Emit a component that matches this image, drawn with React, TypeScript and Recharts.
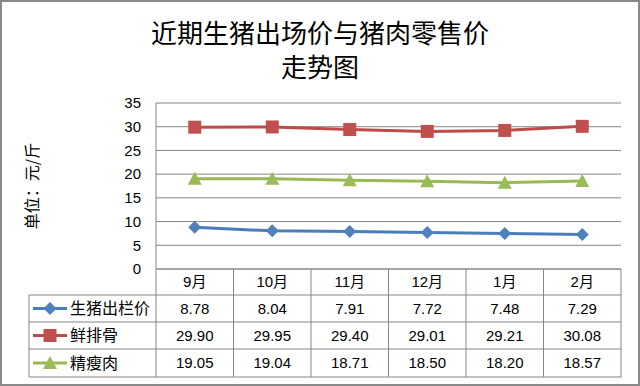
import React from 'react';
import { LineChart, Line, XAxis, YAxis, CartesianGrid } from 'recharts';

// 月份与价格（元/斤）
const months = ['9月', '10月', '11月', '12月', '1月', '2月'];
const hogPrice = [8.78, 8.04, 7.91, 7.72, 7.48, 7.29];
const ribPrice = [29.9, 29.95, 29.4, 29.01, 29.21, 30.08];
const leanPrice = [19.05, 19.04, 18.71, 18.5, 18.2, 18.57];
const yTicks = [0, 5, 10, 15, 20, 25, 30, 35];

const series = [
  { key: 'hog', name: '生猪出栏价', values: hogPrice, line: '#4A7EBB', fill: '#4F81BD', shape: 'diamond' },
  { key: 'rib', name: '鲜排骨', values: ribPrice, line: '#BE4B48', fill: '#C0504D', shape: 'square' },
  { key: 'lean', name: '精瘦肉', values: leanPrice, line: '#98B954', fill: '#9BBB59', shape: 'triangle' },
];

const data = months.map((m, i) => ({
  month: m,
  hog: hogPrice[i],
  rib: ribPrice[i],
  lean: leanPrice[i],
}));

const W = 640;
const H = 386;
const PLOT_LEFT = 156;
const PLOT_RIGHT = 621;
const TABLE_LEFT = 29;
const ROWS = [26, 53, 80, 108]; // bottom of each table row, from the x axis
const COL_W = (PLOT_RIGHT - PLOT_LEFT) / months.length;
const GRID = '#868686';
const FONT = '"Liberation Sans", "Noto Sans CJK SC", sans-serif';

const Marker = ({ shape, cx, cy, color }: any) => {
  if (shape === 'diamond') {
    return <polygon points={`${cx},${cy - 6.5} ${cx + 6.5},${cy} ${cx},${cy + 6.5} ${cx - 6.5},${cy}`} fill={color} />;
  }
  if (shape === 'square') {
    return <rect x={cx - 6.5} y={cy - 6.5} width={13} height={13} fill={color} />;
  }
  return <polygon points={`${cx},${cy - 7} ${cx + 7},${cy + 6} ${cx - 7},${cy + 6}`} fill={color} />;
};

// x 轴刻度画成数据表的一列
const TableTick = (props: any) => {
  const { x, y, payload } = props;
  const i = months.indexOf(payload.value);
  const left = x - COL_W / 2;
  const right = x + COL_W / 2;
  const rowTops = [0, ...ROWS];

  return (
    <g>
      <line x1={right} y1={y} x2={right} y2={y + ROWS[3]} stroke={GRID} />
      {i === 0 && <line x1={left} y1={y} x2={left} y2={y + ROWS[3]} stroke={GRID} />}
      {ROWS.map((r) => (
        <line key={r} x1={i === 0 ? TABLE_LEFT : left} y1={y + r} x2={right} y2={y + r} stroke={GRID} />
      ))}
      {i === 0 && <line x1={TABLE_LEFT} y1={y + ROWS[0]} x2={TABLE_LEFT} y2={y + ROWS[3]} stroke={GRID} />}
      <text x={x} y={y + ROWS[0] / 2} dy="0.35em" textAnchor="middle" fontSize={15} fill="#000" fontFamily={FONT}>
        {payload.value}
      </text>
      {series.map((s, k) => {
        const cy = y + (rowTops[k + 1] + rowTops[k + 2]) / 2;
        return (
          <g key={s.key}>
            <text x={x} y={cy} dy="0.35em" textAnchor="middle" fontSize={15} fill="#000" fontFamily={FONT}>
              {s.values[i].toFixed(2)}
            </text>
            {i === 0 && (
              <g>
                <line x1={33} y1={cy} x2={67} y2={cy} stroke={s.line} strokeWidth={3} />
                <Marker shape={s.shape} cx={50} cy={cy} color={s.fill} />
                <text x={70} y={cy} dy="0.35em" fontSize={16} fill="#000" fontFamily='"Noto Sans CJK SC", sans-serif'>
                  {s.name}
                </text>
              </g>
            )}
          </g>
        );
      })}
    </g>
  );
};

export default function App() {
  return (
    <div style={{ position: 'absolute', left: 0, top: 0, width: W, height: H, background: '#fff', fontFamily: FONT }}>
      <div
        style={{
          position: 'absolute',
          top: 15,
          left: 0,
          width: W,
          textAlign: 'center',
          fontSize: 26,
          lineHeight: '34px',
          fontFamily: '"Noto Sans CJK SC", sans-serif',
          color: '#000',
        }}
      >
        <div>近期生猪出场价与猪肉零售价</div>
        <div>走势图</div>
      </div>
      <LineChart width={W} height={H} data={data} margin={{ top: 103, right: W - PLOT_RIGHT, left: 0, bottom: 9 }}>
        <CartesianGrid vertical={false} stroke={GRID} />
        <XAxis
          dataKey="month"
          height={108}
          padding={{ left: COL_W / 2, right: COL_W / 2 }}
          tickLine={false}
          tickSize={0}
          tickMargin={0}
          axisLine={{ stroke: GRID }}
          tick={<TableTick />}
          interval={0}
        />
        <YAxis
          width={PLOT_LEFT}
          domain={[0, 35]}
          ticks={yTicks}
          tickLine={false}
          tickSize={0}
          tickMargin={15}
          axisLine={{ stroke: GRID }}
          tick={{ fontSize: 15, fill: '#000', fontFamily: FONT }}
          label={{
            value: '单位：元/斤',
            angle: -90,
            position: 'insideLeft',
            offset: 32,
            style: { textAnchor: 'middle', fontSize: 16, fill: '#000', fontFamily: '"Noto Sans CJK SC", sans-serif' },
          }}
        />
        {series.map((s) => (
          <Line
            key={s.key}
            type="linear"
            dataKey={s.key}
            name={s.name}
            stroke={s.line}
            strokeWidth={3}
            isAnimationActive={false}
            dot={(p: any) => <Marker key={`${s.key}-${p.index}`} shape={s.shape} cx={p.cx} cy={p.cy} color={s.fill} />}
            activeDot={false}
          />
        ))}
      </LineChart>
      <div
        style={{
          position: 'absolute',
          left: 0,
          top: 0,
          width: W,
          height: H,
          boxSizing: 'border-box',
          border: '2px solid #898989',
          pointerEvents: 'none',
        }}
      />
    </div>
  );
}
